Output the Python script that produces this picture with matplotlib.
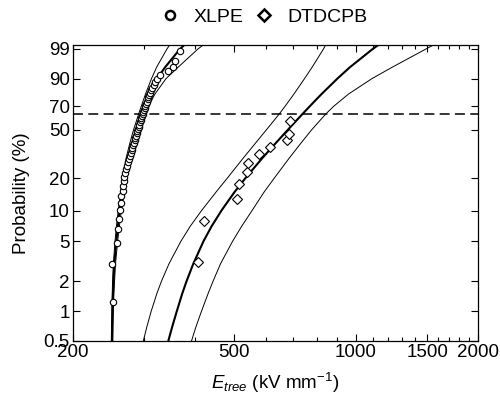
import numpy as np
import matplotlib
matplotlib.use("Agg")
import matplotlib.pyplot as plt
from matplotlib.lines import Line2D
from matplotlib.ticker import NullFormatter, NullLocator

plt.rcParams['font.family'] = ['Liberation Sans', 'DejaVu Sans']
plt.rcParams['mathtext.fontset'] = 'custom'
plt.rcParams['mathtext.rm'] = 'Liberation Sans'
plt.rcParams['mathtext.it'] = 'Liberation Sans:italic'

# XLPE breakdown data (kV/mm) and plotting positions (%)
xlpe_E = [250.8, 250.5, 257.3, 259.2, 260.2, 261.7, 262.8, 263.7, 265.8, 266.5,
          267.4, 268.3, 269.3, 270.6, 272.3, 273.9, 275.1, 276.7, 278.1, 279.4,
          280.5, 281.8, 283.1, 284.2, 285.3, 286.5, 287.6, 288.8, 289.9, 290.9,
          292.1, 293.2, 294.4, 295.4, 296.6, 297.6, 298.8, 300.0, 301.2, 302.4,
          303.6, 304.8, 306.2, 307.6, 309.2, 310.9, 312.7, 314.7, 316.8, 319.4,
          323.0, 327.7, 344.8, 354.4, 357.8, 368.1]
xlpe_p = [1.24, 3.01, 4.79, 6.56, 8.33, 10.11, 11.88, 13.65, 15.43, 17.20,
          18.97, 20.74, 22.52, 24.29, 26.06, 27.84, 29.61, 31.38, 33.16, 34.93,
          36.70, 38.48, 40.25, 42.02, 43.79, 45.57, 47.34, 49.11, 50.89, 52.66,
          54.43, 56.21, 57.98, 59.75, 61.52, 63.30, 65.07, 66.84, 68.62, 70.39,
          72.16, 73.94, 75.71, 77.48, 79.26, 81.03, 82.80, 84.57, 86.35, 88.12,
          89.89, 91.67, 93.44, 95.21, 96.99, 98.76]

# DTDCPB data
dtd_E = [408, 422, 508, 514, 539, 543, 576, 613, 678, 683, 688]
dtd_p = [3.1, 7.9, 12.8, 17.8, 22.7, 27.6, 32.4, 37.5, 41.9, 47.0, 57.2]

# fitted curves and bounds, E at these probabilities
curve_p = [0.5, 0.7, 1, 1.5, 2, 3, 5, 7, 10, 15, 20, 30, 40, 50, 63.2, 70,
           80, 90, 95, 99, 99.4]

xlpe_fit_E = [250.1, 250.4, 250.8, 251.5, 252.2, 253.4, 256.3, 258.5, 261.1, 264.7,
              268.1, 273.9, 280.6, 287.3, 295.8, 300.9, 309.6, 323.0, 338.1, 368.1, 378.7]
xlpe_lo_E = [249.1, 249.4, 249.8, 250.4, 250.9, 252.0, 254.4, 256.4, 259.1, 262.5,
             265.5, 270.8, 276.8, 282.6, 290.8, 295.3, 302.6, 313.1, 322.1, 341.9, 347.8]
xlpe_hi_E = [251.2, 251.5, 252.0, 252.8, 253.7, 255.1, 258.2, 260.7, 263.7, 268.1,
             271.8, 278.3, 285.1, 292.4, 301.7, 307.5, 319.4, 340.0, 363.9, 407.8, 422.0]

dtd_fit_E = [344.4, 352.3, 361.5, 372.7, 382.0, 397.0, 420.5, 440.1, 465.8, 501.8,
             533.0, 586.9, 634.6, 679.0, 737.4, 769.5, 823.8, 900.8, 966.6, 1101.6, 1141.7]
dtd_lo_E = [298.8, 305.0, 312.5, 322.6, 331.2, 345.8, 369.8, 389.7, 416.0, 451.8,
            480.9, 526.6, 565.6, 601.1, 646.3, 668.8, 703.9, 747.2, 779.8, 832.4, 844.3]
dtd_hi_E = [393.0, 403.2, 416.0, 431.7, 444.1, 463.5, 496.1, 522.1, 554.4, 593.7,
            628.2, 684.0, 732.5, 777.4, 841.8, 881.5, 960.5, 1096.6, 1228.7, 1491.5, 1565.4]

yticks = [0.5, 1, 2, 5, 10, 20, 50, 70, 90, 99]
xticks = [200, 500, 1000, 1500, 2000]
xminor = [300, 400, 600, 700, 800, 900, 1100, 1200, 1300, 1400, 1600, 1700, 1800, 1900]


def fwd(p):
    p = np.asarray(p, dtype=float)
    with np.errstate(invalid='ignore', divide='ignore'):
        return np.log(-np.log(1 - p / 100.0))


def inv(w):
    w = np.asarray(w, dtype=float)
    return 100.0 * (1 - np.exp(-np.exp(w)))


fig = plt.figure(figsize=(5.0, 3.99), dpi=100)
ax = fig.add_axes([0.1454, 0.1454, 0.81, 0.7426])
ax.set_xscale('log')
ax.set_yscale('function', functions=(fwd, inv))

for E, w in [(xlpe_fit_E, 1.5), (xlpe_lo_E, 0.7), (xlpe_hi_E, 0.7),
             (dtd_fit_E, 1.5), (dtd_lo_E, 0.7), (dtd_hi_E, 0.7)]:
    ax.plot(E, curve_p, color='black', lw=w, solid_joinstyle='round')

ax.axhline(63.2, color='black', lw=1.1, ls=(0, (6.5, 3.5)))

ax.plot(xlpe_E, xlpe_p, 'o', ms=4.6, mfc='white', mec='black', mew=0.8, zorder=5)
ax.plot(dtd_E, dtd_p, 'D', ms=4.8, mfc='white', mec='black', mew=0.8, zorder=5)

ax.set_xlim(200, 2000)
ax.set_ylim(0.5, 99.38)
ax.set_xticks(xticks)
ax.set_xticklabels([str(v) for v in xticks])
ax.set_xticks(xminor, minor=True)
ax.xaxis.set_minor_formatter(NullFormatter())
ax.set_yticks(yticks)
ax.set_yticklabels([str(v) for v in yticks])
ax.yaxis.set_minor_locator(NullLocator())

ax.tick_params(which='both', direction='in', top=True, right=True,
               labelsize=13.5, pad=2)
ax.tick_params(which='major', length=5, width=0.8)
ax.tick_params(which='minor', length=3, width=0.8)
for s in ax.spines.values():
    s.set_linewidth(0.9)

ax.set_xlabel(r'$E_{tree}$ (kV mm$^{-1}$)', fontsize=13.5, labelpad=7)
ax.set_ylabel('Probability (%)', fontsize=13.5, labelpad=10)

handles = [Line2D([], [], ls='none', marker='o', ms=6.5, mfc='white', mec='black', mew=1.8),
           Line2D([], [], ls='none', marker='D', ms=6.5, mfc='white', mec='black', mew=1.8)]
fig.legend(handles, ['XLPE', 'DTDCPB'], loc='center', bbox_to_anchor=(0.528, 0.957),
           ncol=2, frameon=False, fontsize=14, handletextpad=0.7, columnspacing=0.6,
           handlelength=1.0, borderpad=0)

fig.savefig('out.png', dpi=100)
